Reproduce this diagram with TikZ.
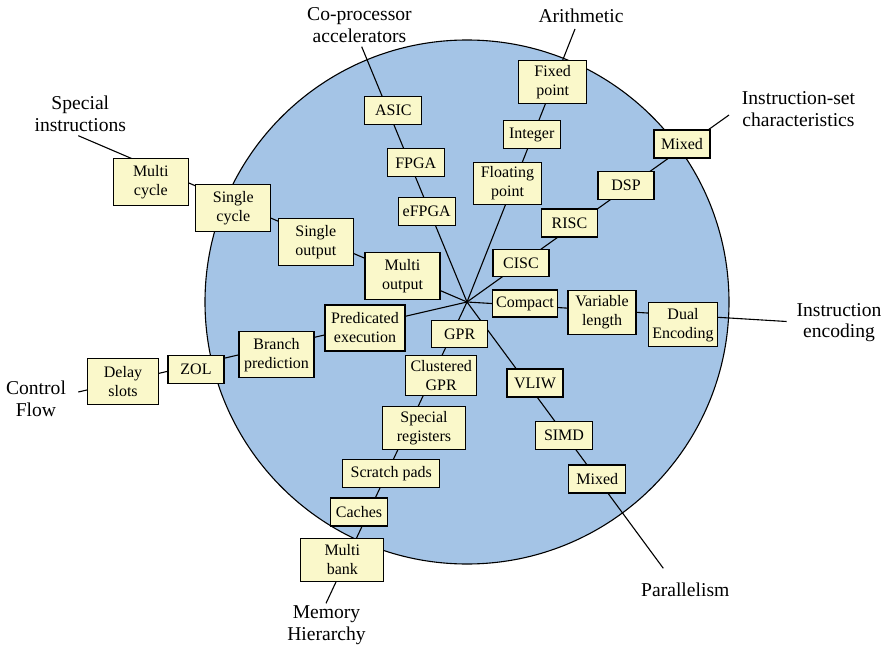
\documentclass[tikz,border=0pt]{standalone}
\usepackage{fontspec}
\setmainfont{Liberation Serif}
\definecolor{disc}{RGB}{164,196,230}
\definecolor{boxfill}{RGB}{250,248,202}
\begin{document}
\begin{tikzpicture}[x=1pt,y=-1pt,
  tag/.style={draw=black, line width=1.2pt, fill=boxfill, inner sep=0pt,
    align=center, font=\fontsize{16}{19}\selectfont,
    minimum width=57pt, minimum height=28pt},
  twoline/.style={minimum height=#1pt},
  area/.style={inner sep=0pt, align=center, font=\fontsize{19.6}{21.5}\selectfont},
  spoke/.style={draw=black, line width=1.1pt}]

% canvas
\fill[white] (0,0) rectangle (889,645);
\useasboundingbox (0,0) rectangle (889,645);

% design-space disc
\fill[disc, draw=black, line width=1.1pt] (467,302) circle[radius=262];

% hub and the outer ends of the eight spokes
\coordinate (hub)    at (467,302);
\coordinate (cpEnd)  at (361.7,46.7);
\coordinate (arEnd)  at (575,29);
\coordinate (isEnd)  at (729,115);
\coordinate (ieEnd)  at (786.7,321.5);
\coordinate (paEnd)  at (663.3,568.3);
\coordinate (mhEnd)  at (326,603.3);
\coordinate (cfEnd)  at (78.3,392);
\coordinate (siEnd)  at (78.3,135.7);

\foreach \e in {cpEnd,arEnd,isEnd,ieEnd,paEnd,mhEnd,cfEnd,siEnd}
  \draw[spoke] (hub) -- (\e);

% axis titles
\node[area] (cpLbl) at (359.5,25)  {Co-processor\\accelerators};
\node[area] (arLbl) at (581,16)    {Arithmetic};
\node[area] (isLbl) at (798.5,109) {Instruction-set\\characteristics};
\node[area] (ieLbl) at (839,322.5) {Instruction\\encoding};
\node[area] (paLbl) at (685.3,590) {Parallelism};
\node[area] (mhLbl) at (326.5,625) {Memory\\Hierarchy};
\node[area] (cfLbl) at (36,399)    {Control\\Flow};
\node[area] (siLbl) at (80.3,114)  {Special\\instructions};

% co-processor accelerators
\node[tag] (asic)  at (393.3,110.2) {ASIC};
\node[tag] (fpga)  at (415.7,162.8) {FPGA};
\node[tag] (efpga) at (426.7,211.7) {eFPGA};

% arithmetic
\node[tag, minimum width=68pt, twoline=43] (fixed) at (552.7,82) {Fixed\\point};
\node[tag] (integer) at (531.7,134.5) {Integer};
\node[tag, minimum width=68pt, twoline=42] (float) at (507.5,183.5) {Floating\\point};

% instruction-set characteristics
\node[tag, minimum width=56pt] (mixedA) at (682,144)    {Mixed};
\node[tag, minimum width=56pt] (dsp)    at (626,185.5)  {DSP};
\node[tag, minimum width=56pt] (risc)   at (569.5,223)  {RISC};
\node[tag, minimum width=56pt, twoline=27] (cisc) at (521,263) {CISC};

% instruction encoding
\node[tag, minimum width=65pt, twoline=27] (compact) at (525,303.5) {Compact};
\node[tag, minimum width=68pt, twoline=44] (varlen) at (602,312.5) {Variable\\length};
\node[tag, minimum width=69pt, twoline=44] (dual) at (683,324.7) {Dual\\Encoding};

% parallelism
\node[tag, minimum width=56pt] (vliw)   at (535,383)    {VLIW};
\node[tag] (simd)   at (564,435.5)  {SIMD};
\node[tag] (mixedB) at (597.3,479)  {Mixed};

% memory hierarchy
\node[tag, minimum width=56pt, twoline=27] (gpr) at (459.7,334) {GPR};
\node[tag, minimum width=71pt, twoline=40] (cgpr) at (441.2,375.7) {Clustered\\GPR};
\node[tag, minimum width=83pt, twoline=43] (sreg) at (424,428.3) {Special\\registers};
\node[tag, minimum width=97pt] (scratch) at (391.3,473.5) {Scratch pads};
\node[tag] (caches) at (359,512) {Caches};
\node[tag, minimum width=83pt, twoline=43] (mbank) at (342.3,560) {Multi\\bank};

% control flow
\node[tag, minimum width=80pt, twoline=46] (pred) at (365,328) {Predicated\\execution};
\node[tag, minimum width=75pt, twoline=46] (branch) at (276.5,354.7) {Branch\\prediction};
\node[tag, minimum width=56pt] (zol) at (196,369.5) {ZOL};
\node[tag, minimum width=71pt, twoline=46] (delay) at (123,381.8) {Delay\\slots};

% special instructions
\node[tag, minimum width=75pt, twoline=47] (mout) at (402.5,275.7) {Multi\\output};
\node[tag, minimum width=75pt, twoline=47] (sout) at (315.8,241.7) {Single\\output};
\node[tag, minimum width=75pt, twoline=47] (scyc) at (233.3,207.7) {Single\\cycle};
\node[tag, minimum width=75pt, twoline=47] (mcyc) at (150.8,181.7) {Multi\\cycle};

\end{tikzpicture}
\end{document}
